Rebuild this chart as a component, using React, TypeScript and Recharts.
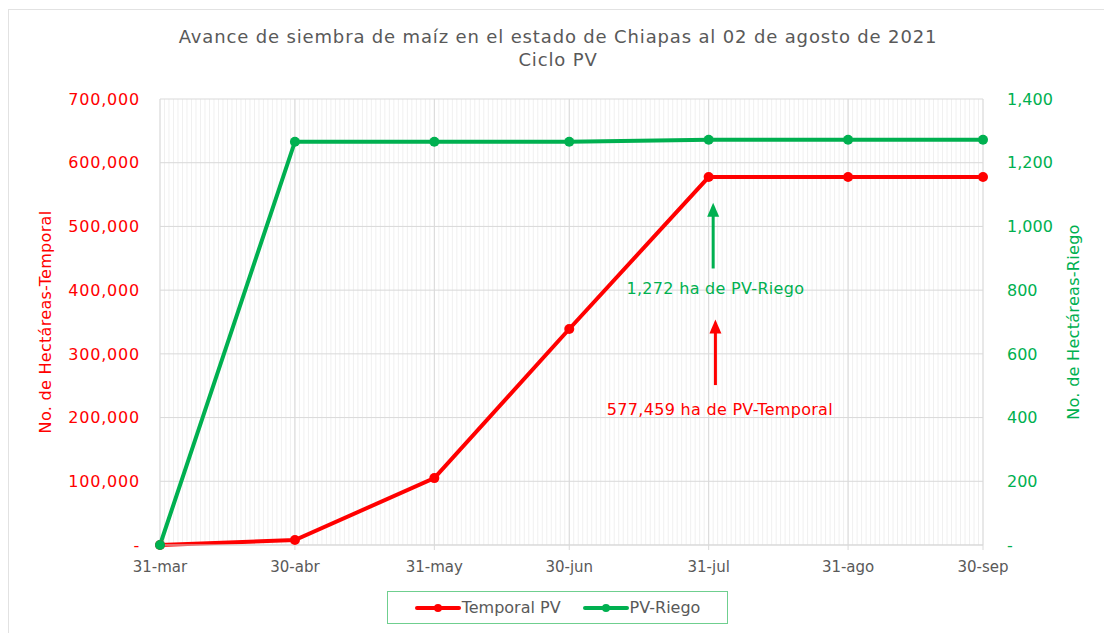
import {
  LineChart,
  Line,
  XAxis,
  YAxis,
  CartesianGrid,
  Legend,
  ReferenceLine,
  ReferenceDot,
} from 'recharts';

// dias transcurridos desde el 31-mar
const days = [0, 30, 61, 91, 122, 153, 183];
const monthLabels = ['31-mar', '30-abr', '31-may', '30-jun', '31-jul', '31-ago', '30-sep'];
const temporal = [0, 7800, 105000, 339000, 577459, 577459, 577459];
const riego = [0, 1266, 1266, 1266, 1272, 1272, 1272];

const leftTicks = [0, 100000, 200000, 300000, 400000, 500000, 600000, 700000];
const rightTicks = [0, 200, 400, 600, 800, 1000, 1200, 1400];
const dailyTicks = Array.from({ length: 184 }, (_, i) => i);

const data = days.map((d, i) => ({
  day: d,
  temporal: temporal[i],
  riego: riego[i],
}));

const RED = '#ff0000';
const GREEN = '#00b050';
const GRAY = '#595959';
const FONT = '"DejaVu Sans", sans-serif';

const fmt = (v: number) => (v === 0 ? '-' : v.toLocaleString('en-US'));
const labelFor = (d: number) => monthLabels[days.indexOf(d)] ?? '';

const arrowShape = (color: string) => (p: any) => {
  const { x1, y1, x2, y2 } = p;
  const tipY = Math.min(y1, y2);
  const tailY = Math.max(y1, y2);
  return (
    <g>
      <line x1={x1} x2={x2} y1={tailY} y2={tipY + 12} stroke={color} strokeWidth={3} />
      <polygon
        points={`${x1 - 6},${tipY + 14} ${x1 + 6},${tipY + 14} ${x1},${tipY}`}
        fill={color}
      />
    </g>
  );
};

const LegendBox = () => (
  <div
    style={{
      border: '1px solid #6fcf8f',
      height: 33,
      display: 'flex',
      alignItems: 'center',
      justifyContent: 'center',
      gap: 22,
      fontFamily: FONT,
      fontSize: 16,
      color: GRAY,
      boxSizing: 'border-box',
    }}
  >
    {[
      { name: 'Temporal PV', color: RED },
      { name: 'PV-Riego', color: GREEN },
    ].map((it) => (
      <span key={it.name} style={{ display: 'flex', alignItems: 'center' }}>
        <svg width={46} height={10}>
          <line x1={2} x2={44} y1={5} y2={5} stroke={it.color} strokeWidth={4} strokeLinecap='round' />
          <circle cx={23} cy={5} r={4} fill={it.color} />
        </svg>
        <span style={{ marginLeft: 1 }}>{it.name}</span>
      </span>
    ))}
  </div>
);

export default function App() {
  const lastRiego = riego[riego.length - 1];
  const julTemporal = temporal[4];
  return (
    <div
      style={{
        position: 'absolute',
        left: 0,
        top: 0,
        width: 1104,
        height: 633,
        background: '#fff',
        overflow: 'hidden',
      }}
    >
      <div
        style={{
          position: 'absolute',
          left: 8,
          top: 9,
          width: 1200,
          height: 700,
          border: '1px solid #e2e2e2',
        }}
      />
      <div
        style={{
          position: 'absolute',
          top: 25,
          width: 1104,
          left: 6,
          textAlign: 'center',
          fontFamily: FONT,
          fontSize: 18,
          letterSpacing: 0.85,
          lineHeight: '23px',
          color: GRAY,
        }}
      >
        Avance de siembra de maíz en el estado de Chiapas al 02 de agosto de 2021
        <br />
        Ciclo PV
      </div>
      <div style={{ position: 'absolute', left: 0, top: 0 }}>
        <LineChart
          width={1104}
          height={633}
          data={data}
          margin={{ top: 99, right: 1, left: 0, bottom: 58 }}
        >
          <XAxis
            xAxisId='main'
            dataKey='day'
            type='number'
            domain={[0, 183]}
            ticks={days}
            interval={0}
            tickFormatter={labelFor}
            height={30}
            stroke='#d9d9d9'
            tickSize={5}
            tick={{ fill: GRAY, fontSize: 15, fontFamily: FONT }}
            tickMargin={11}
          />
          <XAxis
            xAxisId='days'
            dataKey='day'
            type='number'
            domain={[0, 183]}
            ticks={dailyTicks}
            interval={0}
            height={0}
            hide
          />
          <CartesianGrid
            xAxisId='days'
            yAxisId='left'
            horizontal={false}
            stroke='#f0f0f0'
          />
          <CartesianGrid
            xAxisId='main'
            yAxisId='left'
            stroke='#d9d9d9'
          />
          <YAxis
            yAxisId='left'
            width={160}
            domain={[0, 700000]}
            ticks={leftTicks}
            tickFormatter={fmt}
            axisLine={false}
            tickLine={false}
            tickMargin={14}
            tick={{ fill: RED, fontSize: 16, fontFamily: FONT, letterSpacing: 0.8 }}
            label={{
              value: 'No. de Hectáreas-Temporal',
              angle: -90,
              position: 'center',
              dx: -35,
              fill: RED,
              fontSize: 16,
              letterSpacing: 0.3,
              fontFamily: FONT,
            }}
          />
          <YAxis
            yAxisId='right'
            orientation='right'
            width={120}
            domain={[0, 1400]}
            ticks={rightTicks}
            tickFormatter={fmt}
            axisLine={false}
            tickLine={false}
            tickMargin={18}
            tick={{ fill: GREEN, fontSize: 16, fontFamily: FONT, textAnchor: 'start' }}
            label={{
              value: 'No. de Hectáreas-Riego',
              angle: -90,
              position: 'center',
              dx: 30,
              fill: GREEN,
              fontSize: 16,
              letterSpacing: 0.3,
              fontFamily: FONT,
            }}
          />
          <Line
            xAxisId='main'
            yAxisId='left'
            dataKey='temporal'
            name='Temporal PV'
            stroke={RED}
            strokeWidth={4}
            dot={{ r: 5, fill: RED, stroke: RED, strokeWidth: 0 }}
            isAnimationActive={false}
          />
          <Line
            xAxisId='main'
            yAxisId='right'
            dataKey='riego'
            name='PV-Riego'
            stroke={GREEN}
            strokeWidth={4}
            dot={{ r: 5, fill: GREEN, stroke: GREEN, strokeWidth: 0 }}
            isAnimationActive={false}
          />
          <ReferenceLine
            xAxisId='main'
            yAxisId='left'
            segment={[
              { x: 123, y: 434000 },
              { x: 123, y: 537000 },
            ]}
            shape={arrowShape(GREEN)}
          />
          <ReferenceLine
            xAxisId='main'
            yAxisId='left'
            segment={[
              { x: 123.5, y: 251000 },
              { x: 123.5, y: 354000 },
            ]}
            shape={arrowShape(RED)}
          />
          <ReferenceDot
            xAxisId='main'
            yAxisId='left'
            x={123.5}
            y={403000}
            r={0}
            label={{
              value: `${lastRiego.toLocaleString('en-US')} ha de PV-Riego`,
              position: 'center',
              fill: GREEN,
              fontSize: 16,
              letterSpacing: 0.3,
              fontFamily: FONT,
            }}
          />
          <ReferenceDot
            xAxisId='main'
            yAxisId='left'
            x={124.5}
            y={213500}
            r={0}
            label={{
              value: `${julTemporal.toLocaleString('en-US')} ha de PV-Temporal`,
              position: 'center',
              fill: RED,
              fontSize: 16,
              letterSpacing: 0.3,
              fontFamily: FONT,
            }}
          />
          <Legend
            layout='horizontal'
            verticalAlign='middle'
            align='center'
            wrapperStyle={{ top: 591, left: 387, width: 341, height: 33 }}
            content={<LegendBox />}
          />
        </LineChart>
      </div>
    </div>
  );
}
